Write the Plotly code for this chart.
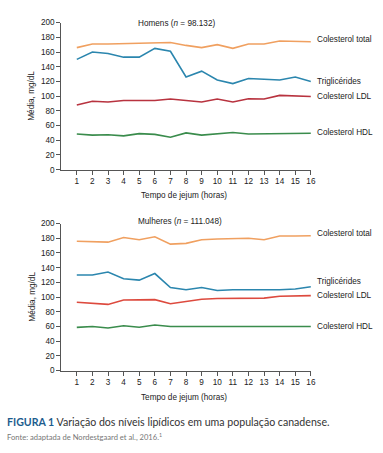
import plotly.graph_objects as go

hours = list(range(1, 17))
series_names = ["Colesterol total", "Triglicérides", "Colesterol LDL", "Colesterol HDL"]

men_total = [166, 171, 171, 171.5, 172, 172, 173, 169, 166, 170, 165, 171, 171, 175, 175, 174]
men_trig = [150, 160, 158, 153, 153, 165, 161, 126, 134, 122, 117, 124, 123, 122, 126, 120]
men_ldl = [88, 93, 92, 94, 94, 94, 96, 94, 92, 96, 92, 96.5, 96, 101, 100, 99.5]
men_hdl = [48.5, 47, 47.5, 46, 49, 48, 44, 50, 47, 49, 50.5, 48.5, 48.5, 49, 49, 49.5]

women_total = [176, 175.5, 174.7, 181, 178, 182, 172, 173, 178, 179, 179.5, 180, 178, 183, 183, 183.5]
women_trig = [130, 130, 134, 125, 123, 132, 113, 110, 113, 109, 110, 110, 109, 110, 111, 114]
women_ldl = [93, 91, 90, 96, 96, 96.5, 91, 94, 97, 98, 98.5, 99, 98.5, 101, 102, 102]
women_hdl = [58.7, 60, 58, 61, 59, 62, 60, 60, 60, 60, 60, 60, 60, 60, 60, 60]

y_ticks = list(range(0, 201, 20))

W, H = 383, 453
FONT = "Liberation Sans, Arial, sans-serif"
TXT = "#222222"
FS = 8.2

colors_men = ["#f0a060", "#2b86ae", "#b8333f", "#3a8c4c"]
colors_women = ["#f0a060", "#2b86ae", "#dd4a3e", "#3a8c4c"]

def px(x):
    return x / W

def py(y):
    return 1 - y / H

fig = go.Figure()

panels = [
    ("x", "y", [men_total, men_trig, men_ldl, men_hdl], colors_men),
    ("x2", "y2", [women_total, women_trig, women_ldl, women_hdl], colors_women),
]
for xa, ya, data, cols in panels:
    for name, vals, c in zip(series_names, data, cols):
        fig.add_trace(go.Scatter(x=hours, y=vals, mode="lines", name=name,
                                 line=dict(color=c, width=1.6), xaxis=xa, yaxis=ya,
                                 showlegend=False, hoverinfo="skip"))

axis_common = dict(showgrid=False, zeroline=False, showline=True, linecolor="#555555",
                   linewidth=1, ticks="outside", ticklen=4, tickcolor="#555555",
                   tickfont=dict(family=FONT, size=FS, color=TXT))

xd = [px(62), px(315)]
fig.update_layout(
    width=W, height=H, margin=dict(l=0, r=0, t=0, b=0),
    paper_bgcolor="white", plot_bgcolor="white",
    xaxis=dict(domain=xd, range=[0, 16], tickvals=hours, anchor="y", **axis_common),
    yaxis=dict(domain=[py(169), py(19)], range=[0, 200], tickvals=y_ticks, anchor="x", **axis_common),
    xaxis2=dict(domain=xd, range=[0, 16], tickvals=hours, anchor="y2", **axis_common),
    yaxis2=dict(domain=[py(374), py(224)], range=[0, 200], tickvals=y_ticks, anchor="x2", **axis_common),
)

ann = []
def add(text, x, y, size=FS, xanchor="left", yanchor="middle", color=TXT, angle=0, family=FONT):
    ann.append(dict(text=text, x=px(x), y=py(y), xref="paper", yref="paper", showarrow=False,
                    xanchor=xanchor, yanchor=yanchor, textangle=angle,
                    font=dict(family=family, size=size, color=color)))

add("Homens (<i>n</i> = 98.132)", 138, 20)
add("Mulheres (<i>n</i> = 111.048)", 138, 222)
add("Tempo de jejum (horas)", 186, 195, xanchor="center")
add("Tempo de jejum (horas)", 186, 401, xanchor="center")
add("Média, mg/dL", 32, 94, xanchor="center", angle=-90)
add("Média, mg/dL", 32, 299, xanchor="center", angle=-90)

for txt, y in zip(series_names, [36, 79, 94, 131]):
    add(txt, 319, y)
for txt, y in zip(series_names, [234, 283, 297, 329]):
    add(txt, 319, y)

CAP = "Lato, Open Sans, sans-serif"
add("<b><span style='color:#1d5d8e'>FIGURA 1</span></b> Variação dos níveis lipídicos em uma população canadense.",
    5, 426, size=10.6, family=CAP, color="#333333")
add("Fonte: adaptada de Nordestgaard et al., 2016.<sup>1</sup>", 5, 442, size=7.6, family=CAP, color="#777777")

fig.update_layout(annotations=ann)
fig.write_html("out.html", config={"displayModeBar": False},
               post_script="document.body.style.margin='0px';")
